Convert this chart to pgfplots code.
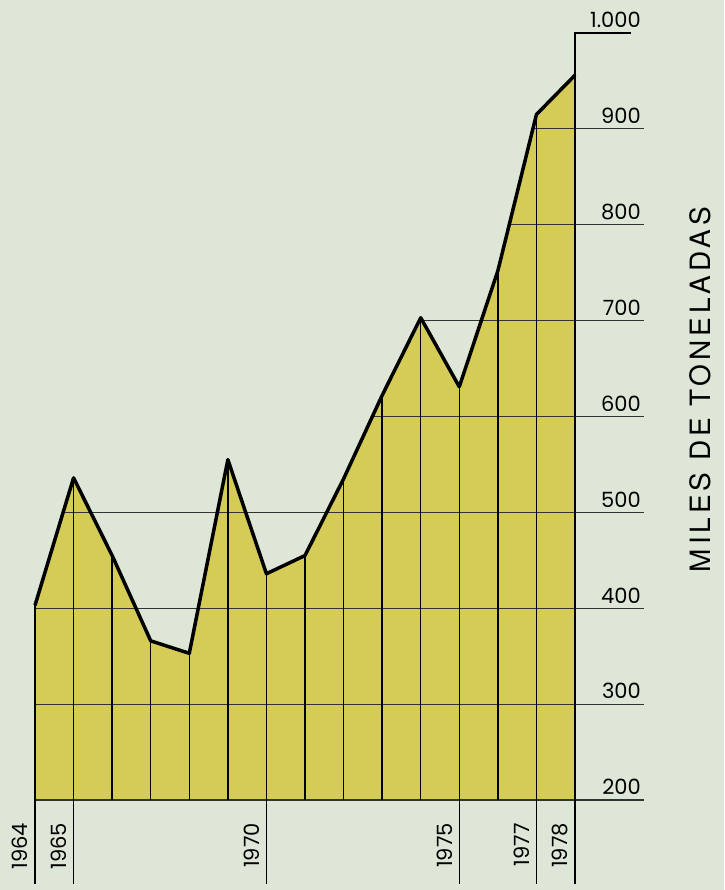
\documentclass[border=0pt]{standalone}
\usepackage{pgfplots}
\pgfplotsset{compat=1.18}
\usepackage{pgfplotstable}
\usepackage{fontspec}
\setmainfont{Poppins}
\newfontfamily\titlefont{TeX Gyre Heros}[LetterSpace=14]
\usetikzlibrary{backgrounds}

\definecolor{bg}{RGB}{222,230,216}
\definecolor{fillc}{RGB}{213,204,88}

% miles de toneladas por año
\pgfplotstableread{
year val
1964 403
1965 536
1966 455
1967 366
1968 353
1969 555
1970 436
1971 455
1972 535
1973 622
1974 703
1975 631
1976 752
1977 915
1978 956
}\prod

\begin{document}
\begin{tikzpicture}
\begin{axis}[
  scale only axis,
  width=540pt, height=767pt,
  xmin=1964, xmax=1978, ymin=200, ymax=1000,
  clip=false,
  axis line style={draw=none},
  tick style={draw=none},
  tick label style={font=\fontsize{21}{24}\selectfont},
  xtick={1964,1965,1970,1975,1977,1978},
  xticklabels={1964,1965,1970,1975,1977,1978},
  xticklabel style={xshift=-15pt, yshift=-23pt, rotate=90, anchor=east, inner sep=0pt},
  ytick={200,300,...,1000},
  yticklabels={200,300,400,500,600,700,800,900,1.000},
  ytick pos=right, yticklabel pos=right,
  yticklabel style={anchor=south east, inner sep=0pt, xshift=66pt, yshift=5pt},
]
\coordinate (sw) at (rel axis cs:0,0);

% area
\addplot[fill=fillc, draw=none] table[x=year, y=val] {\prod}
  -- (axis cs:1978,200) -- (axis cs:1964,200) -- cycle;

% horizontal rules, each starting where the area first reaches it
\draw[black!80, line width=1.2pt] (axis cs:1964,200) -- (axis cs:1979.8,200);
\draw[black!80, line width=1.2pt] (axis cs:1964,300) -- (axis cs:1979.8,300);
\draw[black!80, line width=1.2pt] (axis cs:1964,400) -- (axis cs:1979.8,400);
\draw[black!80, line width=1.2pt] (axis cs:1964.73,500) -- (axis cs:1979.8,500);
\draw[black!80, line width=1.2pt] (axis cs:1972.75,600) -- (axis cs:1979.8,600);
\draw[black!80, line width=1.2pt] (axis cs:1973.96,700) -- (axis cs:1979.8,700);
\draw[black!80, line width=1.2pt] (axis cs:1976.29,800) -- (axis cs:1979.8,800);
\draw[black!80, line width=1.2pt] (axis cs:1976.91,900) -- (axis cs:1979.8,900);

% vertical rules up to the curve
\addplot[draw=none, mark=none,
  error bars/.cd, y dir=minus, y explicit, error mark=none,
  error bar style={draw=black, line width=1.5pt}]
  table[x=year, y=val, y error expr=\thisrow{val}-200] {\prod};

% year marks below the base
\pgfplotsinvokeforeach{1964,1965,1970,1975,1977,1978}{
  \draw[black, line width=1.2pt] (axis cs:#1,200) -- (axis cs:#1,112);
}

% right scale
\draw[black, line width=2pt] (axis cs:1978,200) -- (axis cs:1978,1000) -- (axis cs:1979.45,1000);

% outline
\addplot[black, line width=3.5pt, line join=round] table[x=year, y=val] {\prod};

\node[rotate=90, font=\fontsize{28}{32}\selectfont\titlefont] at (axis description cs:1.2315,0.535) {MILES DE TONELADAS};
\end{axis}
\begin{scope}[on background layer]
\fill[bg] ([shift={(-35pt,-90pt)}]sw) rectangle ([shift={(689pt,800pt)}]sw);
\end{scope}
\end{tikzpicture}
\end{document}
